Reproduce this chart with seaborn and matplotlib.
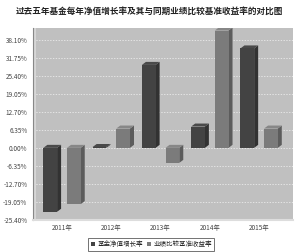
import matplotlib
matplotlib.use("Agg")
import matplotlib.pyplot as plt
import seaborn as sns
import pandas as pd
import numpy as np
from matplotlib.patches import Polygon

years = ["2011年", "2012年", "2013年", "2014年", "2015年"]
fund = [-22.5, 0.3, 29.2, 7.5, 35.0]
bench = [-19.8, 6.8, -5.3, 41.3, 6.8]
series = ["基金净值增长率", "业绩比较基准收益率"]
yticks = [-25.40, -19.05, -12.70, -6.35, 0.00, 6.35, 12.70, 19.05, 25.40, 31.75, 38.10]
title = "过去五年基金每年净值增长率及其与同期业绩比较基准收益率的对比图"

df = pd.DataFrame({
    "year": years * 2,
    "value": fund + bench,
    "series": [series[0]] * 5 + [series[1]] * 5,
})

sns.set_theme(style="white")
plt.rcParams["font.family"] = ["Noto Sans CJK SC", "DejaVu Sans"]

fig = plt.figure(figsize=(3.0, 2.52), dpi=100)
ax = fig.add_axes([0.11, 0.127, 0.867, 0.762])
ax.set_facecolor("#c0c0c0")

palette = {series[0]: "#434343", series[1]: "#7b7b7b"}
sns.barplot(data=df, x="year", y="value", hue="series", palette=palette,
            width=0.96, gap=0.42, ax=ax, saturation=1, edgecolor="none",
            legend=True, zorder=3)

ax.set_xlim(-0.59, 4.69)
ax.set_ylim(-25.4, 42.2)
ax.set_yticks(yticks)
ax.set_yticklabels([f"{v:.2f}%" for v in yticks], fontsize=4.6, color="#444444")
ax.tick_params(axis="x", labelsize=4.6, colors="#444444", length=0, pad=3)
ax.tick_params(axis="y", length=2, width=0.5, pad=2, color="#555555")
ax.set_xlabel("")
ax.set_ylabel("")
ax.yaxis.grid(True, color="white", linestyle=(0, (2, 2)), linewidth=0.5, alpha=0.8)
ax.set_axisbelow(True)
for s in ["top", "right"]:
    ax.spines[s].set_visible(False)
ax.spines["left"].set_color("#888888")
ax.spines["left"].set_linewidth(0.8)
ax.spines["bottom"].set_color("#dddddd")
ax.spines["bottom"].set_linewidth(1.5)

# pseudo-3D sides for bars
fig.canvas.draw()
inv = ax.transData.inverted()
p0 = inv.transform((0, 0))
p1 = inv.transform((4, 3))
dx, dy = p1[0] - p0[0], p1[1] - p0[1]
for patch in list(ax.patches):
    if not hasattr(patch, "get_width"):
        continue
    x0, y0 = patch.get_x(), patch.get_y()
    w, h = patch.get_width(), patch.get_height()
    if w == 0 or w > 0.5:
        continue
    c = np.array(patch.get_facecolor()[:3])
    ytop = max(y0, y0 + h)
    ybot = min(y0, y0 + h)
    side = Polygon([(x0 + w, ybot), (x0 + w + dx, ybot + dy), (x0 + w + dx, ytop + dy), (x0 + w, ytop)],
                   closed=True, facecolor=c * 0.75, edgecolor="none", zorder=2.9)
    top = Polygon([(x0, ytop), (x0 + dx, ytop + dy), (x0 + w + dx, ytop + dy), (x0 + w, ytop)],
                  closed=True, facecolor=np.minimum(c * 1.1, 1), edgecolor="none", zorder=2.9)
    ax.add_patch(side)
    ax.add_patch(top)

# light left wall strip
ax.axvspan(-0.59, -0.53, color="#d6d6d6", zorder=1, linewidth=0)

leg = ax.legend(loc="upper center", bbox_to_anchor=(0.455, -0.075), ncol=2, fontsize=4.7,
                frameon=True, fancybox=False, edgecolor="#333333", handlelength=0.7,
                handleheight=0.7, handletextpad=0.3, columnspacing=0.6, borderpad=0.4)
leg.get_frame().set_linewidth(0.6)

fig.text(0.5, 0.955, title, ha="center", va="center", fontsize=6.2, fontweight="bold", color="#222222")

fig.savefig("out.png", dpi=100)
